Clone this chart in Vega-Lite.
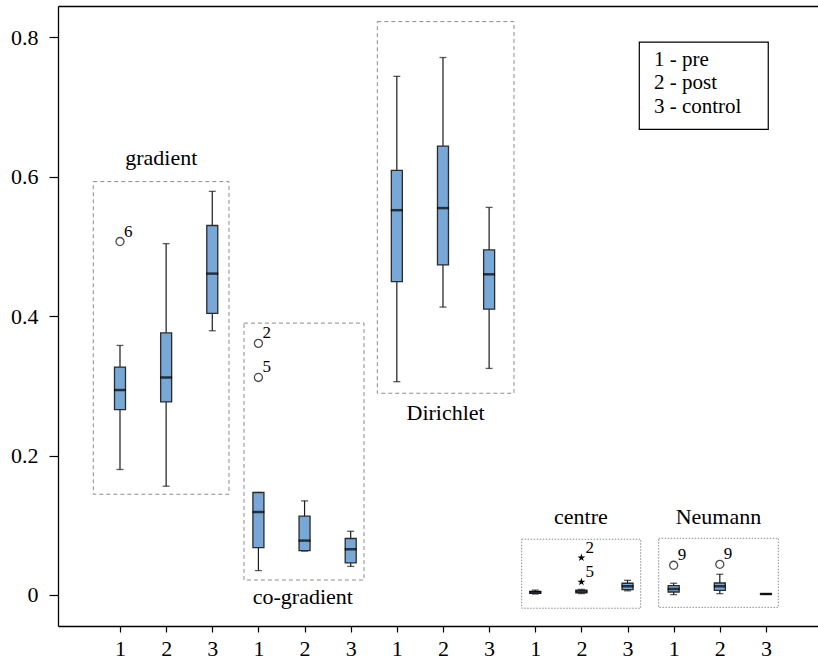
{
  "$schema": "https://vega.github.io/schema/vega-lite/v6.json",
  "width": 760,
  "height": 620,
  "autosize": {"type": "none"},
  "padding": {"left": 58, "top": 6, "right": 0, "bottom": 36},
  "background": "white",
  "config": {
    "view": {"stroke": null},
    "font": "Liberation Serif, Times New Roman, Times, serif",
    "text": {"font": "Liberation Serif, Times New Roman, Times, serif", "color": "black"},
    "axis": {"grid": false, "title": null, "domainColor": "black", "domainWidth": 1.3, "tickColor": "black", "tickWidth": 1.2, "labelColor": "black", "labelFont": "Liberation Serif, Times New Roman, Times, serif", "labelFontSize": 22}
  },
  "resolve": {"axis": {"x": "independent"}},
  "datasets": {
    "boxes": [
      {"pos": 1, "group": "gradient", "lo": 0.180, "q1": 0.266, "med": 0.294, "q3": 0.327, "hi": 0.358},
      {"pos": 2, "group": "gradient", "lo": 0.156, "q1": 0.277, "med": 0.312, "q3": 0.376, "hi": 0.504},
      {"pos": 3, "group": "gradient", "lo": 0.379, "q1": 0.404, "med": 0.461, "q3": 0.530, "hi": 0.579},
      {"pos": 4, "group": "co-gradient", "lo": 0.035, "q1": 0.068, "med": 0.119, "q3": 0.147, "hi": 0.147},
      {"pos": 5, "group": "co-gradient", "lo": 0.063, "q1": 0.0636, "med": 0.078, "q3": 0.113, "hi": 0.135},
      {"pos": 6, "group": "co-gradient", "lo": 0.041, "q1": 0.046, "med": 0.0656, "q3": 0.081, "hi": 0.0914},
      {"pos": 7, "group": "Dirichlet", "lo": 0.306, "q1": 0.4495, "med": 0.552, "q3": 0.609, "hi": 0.744},
      {"pos": 8, "group": "Dirichlet", "lo": 0.413, "q1": 0.4735, "med": 0.555, "q3": 0.644, "hi": 0.771},
      {"pos": 9, "group": "Dirichlet", "lo": 0.325, "q1": 0.41, "med": 0.460, "q3": 0.495, "hi": 0.556},
      {"pos": 10, "group": "centre", "lo": 0.0014, "q1": 0.0024, "med": 0.004, "q3": 0.0053, "hi": 0.007},
      {"pos": 11, "group": "centre", "lo": 0.002, "q1": 0.003, "med": 0.005, "q3": 0.007, "hi": 0.008},
      {"pos": 12, "group": "centre", "lo": 0.006, "q1": 0.0076, "med": 0.0125, "q3": 0.0168, "hi": 0.021},
      {"pos": 13, "group": "Neumann", "lo": 0.0005, "q1": 0.0043, "med": 0.0086, "q3": 0.0134, "hi": 0.0168},
      {"pos": 14, "group": "Neumann", "lo": 0.0019, "q1": 0.0067, "med": 0.0125, "q3": 0.0172, "hi": 0.0297},
      {"pos": 15, "group": "Neumann", "lo": 0.001, "q1": 0.0012, "med": 0.0014, "q3": 0.0016, "hi": 0.0018}
    ],
    "outliers": [
      {"pos": 1, "value": 0.507, "label": "6", "kind": "circle"},
      {"pos": 4, "value": 0.361, "label": "2", "kind": "circle"},
      {"pos": 4, "value": 0.312, "label": "5", "kind": "circle"},
      {"pos": 11, "value": 0.0535, "label": "2", "kind": "star"},
      {"pos": 11, "value": 0.0187, "label": "5", "kind": "star"},
      {"pos": 13, "value": 0.0426, "label": "9", "kind": "circle"},
      {"pos": 14, "value": 0.044, "label": "9", "kind": "circle"}
    ],
    "frames": [
      {"group": "gradient", "x1": 0.421, "x2": 3.362, "y1": 0.1445, "y2": 0.593},
      {"group": "co-gradient", "x1": 3.687, "x2": 6.288, "y1": 0.0215, "y2": 0.390},
      {"group": "Dirichlet", "x1": 6.577, "x2": 9.539, "y1": 0.2894, "y2": 0.8225},
      {"group": "centre", "x1": 9.706, "x2": 12.285, "y1": -0.019, "y2": 0.080},
      {"group": "Neumann", "x1": 12.675, "x2": 15.268, "y1": -0.0177, "y2": 0.0813}
    ],
    "groupLabels": [
      {"text": "gradient", "pos": 1.895, "value": 0.617},
      {"text": "co-gradient", "pos": 4.962, "value": -0.0133},
      {"text": "Dirichlet", "pos": 8.057, "value": 0.251},
      {"text": "centre", "pos": 10.99, "value": 0.1019},
      {"text": "Neumann", "pos": 13.97, "value": 0.1019}
    ],
    "legendBox": [{"x1": 12.255, "x2": 15.05, "y1": 0.668, "y2": 0.793}],
    "legendText": [
      {"text": "1 - pre", "pos": 12.573, "value": 0.759},
      {"text": "2 - post", "pos": 12.573, "value": 0.7255},
      {"text": "3 - control", "pos": 12.573, "value": 0.692}
    ]
  },
  "layer": [
    {
      "data": {"name": "frames"},
      "transform": [{"filter": "datum.group == 'gradient' || datum.group == 'co-gradient' || datum.group == 'Dirichlet'"}],
      "mark": {"type": "rect", "fill": null, "fillOpacity": 0, "stroke": "#8c8c8c", "strokeWidth": 1, "strokeDash": [4, 3]},
      "encoding": {
        "x": {"field": "x1", "type": "quantitative", "scale": {"domain": [-0.3437, 16.128], "nice": false, "zero": false, "padding": 0},
              "axis": {"orient": "bottom", "values": [1,2,3,4,5,6,7,8,9,10,11,12,13,14,15], "labelExpr": "(datum.value - 1) % 3 + 1", "tickSize": 6, "labelPadding": 6, "labelFlush": false, "labelOverlap": false}},
        "x2": {"field": "x2"},
        "y": {"field": "y1", "type": "quantitative", "scale": {"domain": [-0.0445, 0.8449], "nice": false, "zero": false, "padding": 0},
              "axis": {"values": [0, 0.2, 0.4, 0.6, 0.8], "labelExpr": "datum.value == 0 ? '0' : format(datum.value, '.1f')", "tickSize": 9, "labelPadding": 11}},
        "y2": {"field": "y2"}
      }
    },
    {
      "data": {"name": "frames"},
      "transform": [{"filter": "datum.group == 'centre' || datum.group == 'Neumann'"}],
      "mark": {"type": "rect", "fill": null, "fillOpacity": 0, "stroke": "#8c8c8c", "strokeWidth": 1, "strokeDash": [1.5, 1.5]},
      "encoding": {
        "x": {"field": "x1", "type": "quantitative", "axis": null},
        "x2": {"field": "x2"},
        "y": {"field": "y1", "type": "quantitative"},
        "y2": {"field": "y2"}
      }
    },
    {
      "data": {"name": "legendBox"},
      "mark": {"type": "rect", "fill": "white", "stroke": "black", "strokeWidth": 1.2},
      "encoding": {
        "x": {"field": "x1", "type": "quantitative", "axis": {"orient": "top", "labels": false, "ticks": false, "domain": true}},
        "x2": {"field": "x2"},
        "y": {"field": "y1", "type": "quantitative"},
        "y2": {"field": "y2"}
      }
    },
    {
      "data": {"name": "legendText"},
      "mark": {"type": "text", "align": "left", "baseline": "alphabetic", "fontSize": 21},
      "encoding": {
        "x": {"field": "pos", "type": "quantitative", "axis": null},
        "y": {"field": "value", "type": "quantitative"},
        "text": {"field": "text"}
      }
    },
    {
      "data": {"name": "groupLabels"},
      "mark": {"type": "text", "align": "center", "baseline": "alphabetic", "fontSize": 22},
      "encoding": {
        "x": {"field": "pos", "type": "quantitative", "axis": null},
        "y": {"field": "value", "type": "quantitative"},
        "text": {"field": "text"}
      }
    },
    {
      "data": {"name": "boxes"},
      "mark": {"type": "rule", "color": "#1a1a1a", "strokeWidth": 1.2},
      "encoding": {
        "x": {"field": "pos", "type": "quantitative", "axis": null},
        "y": {"field": "lo", "type": "quantitative"},
        "y2": {"field": "hi"}
      }
    },
    {
      "data": {"name": "boxes"},
      "mark": {"type": "tick", "orient": "horizontal", "color": "#1a1a1a", "size": 7, "thickness": 1.3},
      "encoding": {
        "x": {"field": "pos", "type": "quantitative", "axis": null},
        "y": {"field": "lo", "type": "quantitative"}
      }
    },
    {
      "data": {"name": "boxes"},
      "mark": {"type": "tick", "orient": "horizontal", "color": "#1a1a1a", "size": 7, "thickness": 1.3},
      "encoding": {
        "x": {"field": "pos", "type": "quantitative", "axis": null},
        "y": {"field": "hi", "type": "quantitative"}
      }
    },
    {
      "data": {"name": "boxes"},
      "mark": {"type": "bar", "orient": "vertical", "width": 11, "fill": "#78a8d8", "stroke": "#2b2b2b", "strokeWidth": 1.3},
      "encoding": {
        "x": {"field": "pos", "type": "quantitative", "axis": null},
        "y": {"field": "q1", "type": "quantitative"},
        "y2": {"field": "q3"}
      }
    },
    {
      "data": {"name": "boxes"},
      "mark": {"type": "tick", "orient": "horizontal", "color": "black", "size": 12, "thickness": 2.5},
      "encoding": {
        "x": {"field": "pos", "type": "quantitative", "axis": null},
        "y": {"field": "med", "type": "quantitative"}
      }
    },
    {
      "data": {"name": "outliers"},
      "transform": [{"filter": "datum.kind == 'circle'"}],
      "mark": {"type": "point", "shape": "circle", "filled": false, "color": "black", "strokeWidth": 1.3, "size": 65},
      "encoding": {
        "x": {"field": "pos", "type": "quantitative", "axis": null},
        "y": {"field": "value", "type": "quantitative"}
      }
    },
    {
      "data": {"name": "outliers"},
      "transform": [{"filter": "datum.kind == 'star'"}],
      "mark": {"type": "point", "shape": "M0,-1L0.225,-0.309L0.951,-0.309L0.363,0.118L0.588,0.809L0,0.382L-0.588,0.809L-0.363,0.118L-0.951,-0.309L-0.225,-0.309Z", "filled": true, "color": "black", "opacity": 1, "size": 70},
      "encoding": {
        "x": {"field": "pos", "type": "quantitative", "axis": null},
        "y": {"field": "value", "type": "quantitative"}
      }
    },
    {
      "data": {"name": "outliers"},
      "mark": {"type": "text", "align": "left", "baseline": "alphabetic", "fontSize": 17, "dx": 4, "dy": -5},
      "encoding": {
        "x": {"field": "pos", "type": "quantitative", "axis": null},
        "y": {"field": "value", "type": "quantitative"},
        "text": {"field": "label"}
      }
    }
  ]
}
